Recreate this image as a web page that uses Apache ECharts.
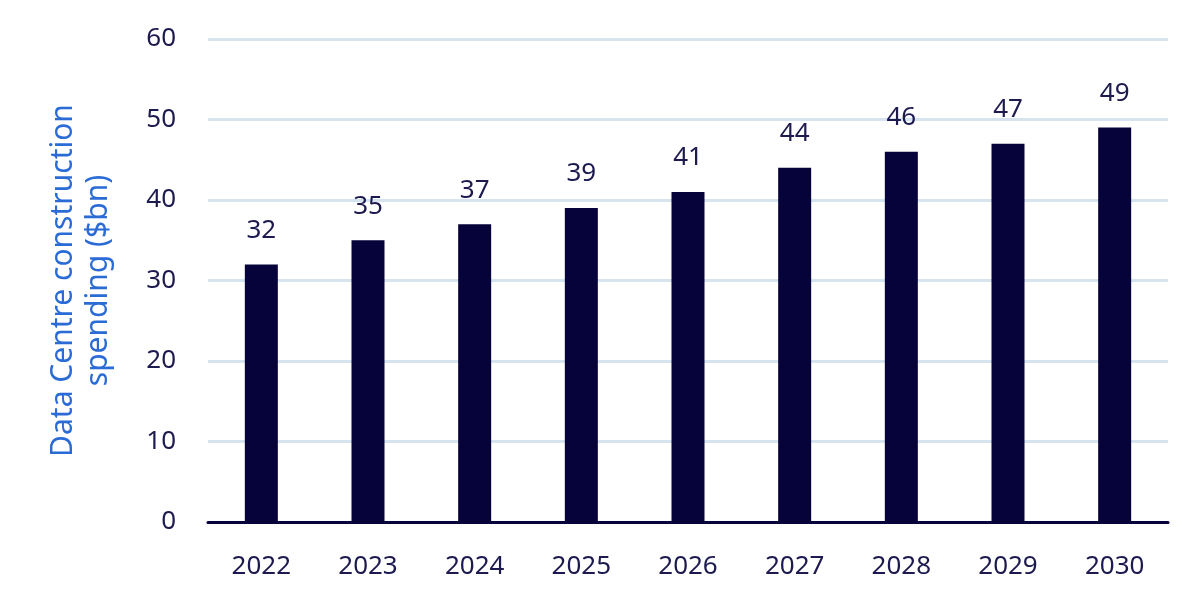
<!DOCTYPE html>
<html lang="en">
<head>
    <meta charset="UTF-8">
    <title>Data Centre construction spending</title>
    <script src="https://cdn.jsdelivr.net/npm/echarts@6.0.0/dist/echarts.min.js"></script>
    <style>
        html, body { margin: 0; padding: 0; background: #fff; }
        #main { width: 1200px; height: 609px; }
    </style>
</head>
<body>
<div id="main"></div>
<script>
    // chart data
    var years = ['2022', '2023', '2024', '2025', '2026', '2027', '2028', '2029', '2030'];
    var spending = [32, 35, 37, 39, 41, 44, 46, 47, 49];
    var axisTitle = 'Data Centre construction\nspending ($bn)';

    var navy = '#06023a';
    var textColor = '#1c1a4e';
    var font = 'Noto Sans';

    var myChart = echarts.init(document.getElementById('main'));
    var option = {
        animation: false,
        grid: { left: 208, right: 32, top: 39, bottom: 87 },
        xAxis: {
            type: 'category',
            data: years,
            axisLine: { lineStyle: { color: navy, width: 3 } },
            axisTick: { show: false },
            axisLabel: { color: textColor, fontSize: 26, fontFamily: font, margin: 32 }
        },
        yAxis: {
            type: 'value',
            min: 0,
            max: 60,
            interval: 10,
            name: axisTitle,
            nameLocation: 'middle',
            nameRotate: 90,
            nameGap: 92,
            nameTextStyle: { color: '#2b6bd6', fontSize: 30, fontFamily: font, lineHeight: 35 },
            axisLine: { show: false },
            axisTick: { show: false },
            axisLabel: { color: textColor, fontSize: 26, fontFamily: font, margin: 32 },
            splitLine: { lineStyle: { color: '#d6e4ef', width: 3 } }
        },
        series: [
            {
                type: 'bar',
                data: spending,
                barWidth: 33,
                itemStyle: { color: navy },
                label: {
                    show: true,
                    position: 'top',
                    distance: 21,
                    color: textColor,
                    fontSize: 26,
                    fontFamily: font
                }
            }
        ]
    };
    myChart.setOption(option);
</script>
</body>
</html>
